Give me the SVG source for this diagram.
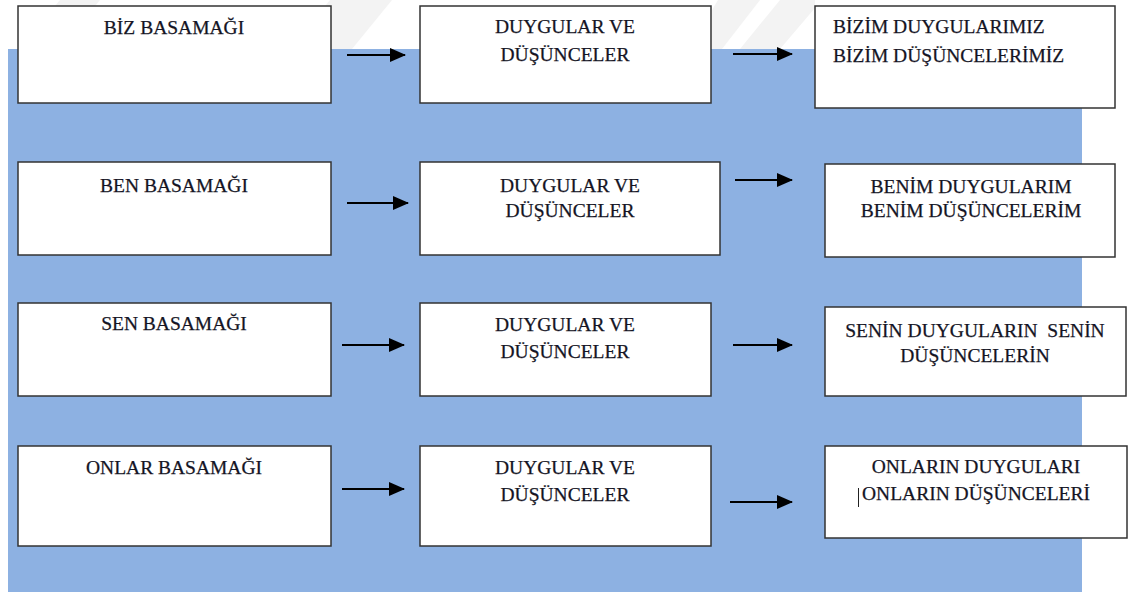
<svg xmlns="http://www.w3.org/2000/svg" width="1135" height="597" viewBox="0 0 1135 597">
  <defs>
    <marker id="ah" viewBox="0 0 16 14" markerWidth="16" markerHeight="14" refX="15" refY="7" orient="auto" markerUnits="userSpaceOnUse">
      <path d="M0,0 L16,7 L0,14 Z" fill="#000"/>
    </marker>
    <style>
      .box { fill: #fff; stroke: #333; stroke-width: 1.5; }
      .c { text-anchor: middle; }
      .arr { stroke: #000; stroke-width: 2; fill: none; marker-end: url(#ah); }
      .wm { fill: #f3f3f3; }
    </style>
  </defs>
  <rect x="0" y="0" width="1135" height="597" fill="#fff"/>
  <g id="watermark">
    <polygon class="wm" points="330,0 392,0 352,49 290,49"/>
    <polygon class="wm" points="718,0 760,0 722,49 712,49 712,10"/>
    <polygon class="wm" points="780,0 815,0 815,8 780,49 740,49"/>
    <polygon class="wm" points="60,0 100,0 95,6 55,6"/>
  </g>
  <rect id="background" x="8" y="49" width="1074" height="543" fill="#8db1e2"/>

  <g id="connectors">
    <line class="arr" x1="347" y1="55" x2="405" y2="55"/>
    <line class="arr" x1="733" y1="54" x2="792" y2="54"/>
    <line class="arr" x1="347" y1="203" x2="408" y2="203"/>
    <line class="arr" x1="735" y1="180" x2="792" y2="180"/>
    <line class="arr" x1="342" y1="345" x2="404" y2="345"/>
    <line class="arr" x1="733" y1="345" x2="792" y2="345"/>
    <line class="arr" x1="342" y1="489" x2="404" y2="489"/>
    <line class="arr" x1="730" y1="502" x2="792" y2="502"/>
  </g>

  <g id="nodes" font-family="Liberation Serif" font-size="19.5" fill="#141424" stroke="#141424" stroke-width="0.25">
  <g id="biz-basamagi">
    <rect class="box" x="18" y="6" width="313" height="97"/>
    <text class="c" x="174" y="34">BİZ BASAMAĞI</text>
  </g>
  <g id="biz-duygular">
    <rect class="box" x="420" y="6" width="291" height="97"/>
    <text class="c" x="565" y="33">DUYGULAR VE</text>
    <text class="c" x="565" y="61">DÜŞÜNCELER</text>
  </g>
  <g id="bizim">
    <rect class="box" x="815" y="6" width="300" height="102"/>
    <text x="833" y="33">BİZİM DUYGULARIMIZ</text>
    <text x="833" y="62">BİZİM DÜŞÜNCELERİMİZ</text>
  </g>

  <g id="ben-basamagi">
    <rect class="box" x="18" y="162" width="313" height="93"/>
    <text class="c" x="174" y="192">BEN BASAMAĞI</text>
  </g>
  <g id="ben-duygular">
    <rect class="box" x="420" y="162" width="300" height="93"/>
    <text class="c" x="570" y="192">DUYGULAR VE</text>
    <text class="c" x="570" y="217">DÜŞÜNCELER</text>
  </g>
  <g id="benim">
    <rect class="box" x="825" y="164" width="290" height="93"/>
    <text class="c" x="971" y="193">BENİM DUYGULARIM</text>
    <text class="c" x="971" y="217">BENİM DÜŞÜNCELERİM</text>
  </g>

  <g id="sen-basamagi">
    <rect class="box" x="18" y="303" width="313" height="93"/>
    <text class="c" x="174" y="330">SEN BASAMAĞI</text>
  </g>
  <g id="sen-duygular">
    <rect class="box" x="420" y="303" width="291" height="93"/>
    <text class="c" x="565" y="331">DUYGULAR VE</text>
    <text class="c" x="565" y="358">DÜŞÜNCELER</text>
  </g>
  <g id="senin">
    <rect class="box" x="825" y="307" width="301" height="89"/>
    <text class="c" x="975" y="337" xml:space="preserve">SENİN DUYGULARIN  SENİN</text>
    <text class="c" x="975" y="362">DÜŞÜNCELERİN</text>
  </g>

  <g id="onlar-basamagi">
    <rect class="box" x="18" y="446" width="313" height="100"/>
    <text class="c" x="174" y="474">ONLAR BASAMAĞI</text>
  </g>
  <g id="onlar-duygular">
    <rect class="box" x="420" y="446" width="291" height="100"/>
    <text class="c" x="565" y="474">DUYGULAR VE</text>
    <text class="c" x="565" y="501">DÜŞÜNCELER</text>
  </g>
  <g id="onlarin">
    <rect class="box" x="825" y="446" width="302" height="92"/>
    <text class="c" x="976" y="473">ONLARIN DUYGULARI</text>
    <text class="c" x="976" y="500">ONLARIN DÜŞÜNCELERİ</text>
    <line x1="858.5" y1="488" x2="858.5" y2="507" stroke="#222" stroke-width="1"/>
  </g>
  </g>
</svg>
